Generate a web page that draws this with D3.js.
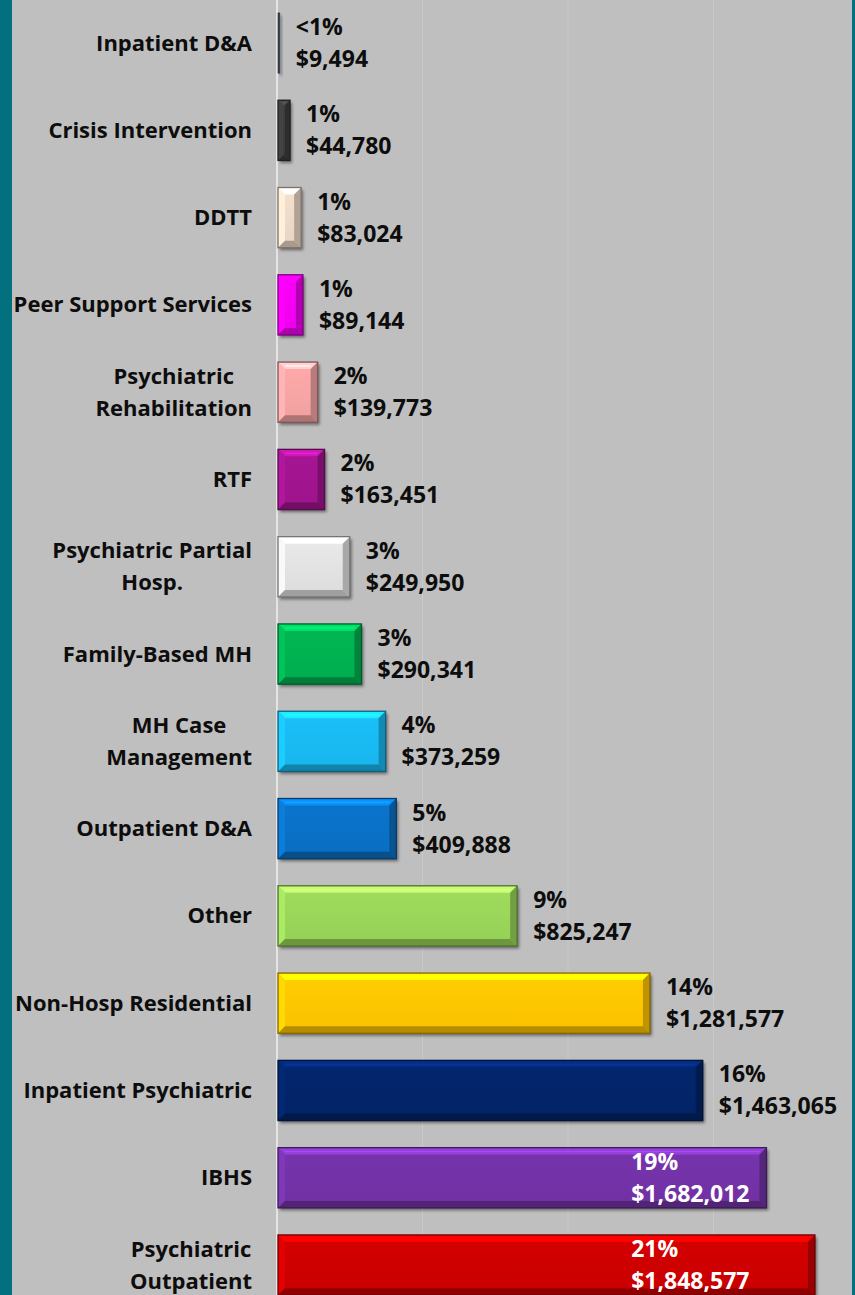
<!DOCTYPE html>
<html>
<head>
<meta charset="utf-8">
<script src="https://cdn.jsdelivr.net/npm/d3@7"></script>
<style>
  html, body { margin: 0; padding: 0; background: #bfbfbf; }
  svg { display: block; }
  text { font-family: "Open Sans", Lato, sans-serif; font-weight: 700; }
</style>
</head>
<body>
<svg id="chart" width="855" height="1295"></svg>
<script>
// Spending by service type (top to bottom)
const categories = [
  "Inpatient D&A",
  "Crisis Intervention",
  "DDTT",
  "Peer Support Services",
  "Psychiatric Rehabilitation",
  "RTF",
  "Psychiatric Partial Hosp.",
  "Family-Based MH",
  "MH Case Management",
  "Outpatient D&A",
  "Other",
  "Non-Hosp Residential",
  "Inpatient Psychiatric",
  "IBHS",
  "Psychiatric Outpatient"
];
// Wrapped lines for the category axis labels
const categoryLines = [
  ["Inpatient D&A"],
  ["Crisis Intervention"],
  ["DDTT"],
  ["Peer Support Services"],
  ["Psychiatric", "Rehabilitation"],
  ["RTF"],
  ["Psychiatric Partial", "Hosp."],
  ["Family-Based MH"],
  ["MH Case", "Management"],
  ["Outpatient D&A"],
  ["Other"],
  ["Non-Hosp Residential"],
  ["Inpatient Psychiatric"],
  ["IBHS"],
  ["Psychiatric", "Outpatient"]
];
const amounts = [9494, 44780, 83024, 89144, 139773, 163451, 249950, 290341,
                 373259, 409888, 825247, 1281577, 1463065, 1682012, 1848577];
const shares = ["<1%", "1%", "1%", "1%", "2%", "2%", "3%", "3%",
                "4%", "5%", "9%", "14%", "16%", "19%", "21%"];
const barColors = ["#3b4150", "#3c3c3c", "#ecd8c6", "#f000f0", "#f4a3a3", "#a0148e",
                   "#e0e0e0", "#00b050", "#19b8f0", "#0a70c4", "#98d459", "#ffc400",
                   "#032468", "#7232a6", "#cc0000"];
const xMax = 2000000;
const xTickStep = 500000;

const svg = d3.select("#chart");
const W = 855, H = 1295;

// grey chart area
svg.append("rect").attr("width", W).attr("height", H).attr("fill", "#bfbfbf");

const x = d3.scaleLinear().domain([0, xMax]).range([277, 859]);
const y = d3.scaleBand().domain(categories).range([-0.6, 1308.7])
  .paddingInner(0.31).paddingOuter(0.155);

// gridlines
const ticks = d3.range(xTickStep, xMax, xTickStep);
svg.append("g").selectAll("line").data(ticks).join("line")
  .attr("x1", d => x(d)).attr("x2", d => x(d))
  .attr("y1", 0).attr("y2", H)
  .attr("stroke", "#c9c9c9").attr("stroke-width", 1);

// category axis line
svg.append("line").attr("x1", x(0)).attr("x2", x(0)).attr("y1", 0).attr("y2", H)
  .attr("stroke", "#e4e4e4").attr("stroke-width", 2);

const defs = svg.append("defs");
defs.append("filter").attr("id", "shadow").attr("x", "-20%").attr("y", "-20%")
  .attr("width", "140%").attr("height", "140%")
  .append("feGaussianBlur").attr("stdDeviation", 1.6);

const bars = svg.append("g");
categories.forEach((cat, i) => {
  const c = d3.color(barColors[i]);
  const x0 = x(0) + 1, x1 = x(amounts[i]);
  const y0 = y(cat), y1 = y0 + y.bandwidth();
  const w = x1 - x0, h = y1 - y0;
  const g = bars.append("g");
  // drop shadow
  g.append("rect").attr("x", x0 + 2).attr("y", y0 + 2.5)
    .attr("width", Math.max(w, 1.5)).attr("height", h)
    .attr("fill", "rgba(0,0,0,0.45)").attr("filter", "url(#shadow)");
  if (w < 6) {
    g.append("rect").attr("x", x0).attr("y", y0).attr("width", Math.max(w, 1.8)).attr("height", h)
      .attr("fill", c.formatHex()).attr("stroke", c.darker(1).formatHex()).attr("stroke-width", 0.6);
    return;
  }
  const b = Math.min(7, w / 2 - 1, h / 2 - 1);
  const poly = pts => pts.map(p => p.join(",")).join(" ");
  // face
  const gid = "face" + i;
  const grad = defs.append("linearGradient").attr("id", gid)
    .attr("x1", 0).attr("y1", 0).attr("x2", 0).attr("y2", 1);
  grad.append("stop").attr("offset", "0%").attr("stop-color", c.brighter(0.12).formatHex());
  grad.append("stop").attr("offset", "100%").attr("stop-color", c.darker(0.05).formatHex());
  g.append("rect").attr("x", x0).attr("y", y0).attr("width", w).attr("height", h)
    .attr("fill", `url(#${gid})`);
  // bevel facets
  g.append("polygon").attr("points", poly([[x0, y0], [x1, y0], [x1 - b, y0 + b], [x0 + b, y0 + b]]))
    .attr("fill", c.brighter(0.7).formatHex());
  g.append("polygon").attr("points", poly([[x0, y0], [x0 + b, y0 + b], [x0 + b, y1 - b], [x0, y1]]))
    .attr("fill", c.brighter(0.3).formatHex());
  g.append("polygon").attr("points", poly([[x1, y0], [x1 - b, y0 + b], [x1 - b, y1 - b], [x1, y1]]))
    .attr("fill", c.darker(0.8).formatHex());
  g.append("polygon").attr("points", poly([[x0, y1], [x1, y1], [x1 - b, y1 - b], [x0 + b, y1 - b]]))
    .attr("fill", c.darker(0.95).formatHex());
  // highlight line along top bevel
  g.append("line").attr("x1", x0 + b).attr("x2", x1 - b).attr("y1", y0 + b * 0.55).attr("y2", y0 + b * 0.55)
    .attr("stroke", c.brighter(1.3).formatHex()).attr("stroke-opacity", 0.7).attr("stroke-width", 1.5);
  // outline
  g.append("rect").attr("x", x0).attr("y", y0).attr("width", w).attr("height", h)
    .attr("fill", "none").attr("stroke", c.darker(1.8).formatHex()).attr("stroke-width", 1.3);
});

// category labels (wrapped lines centred, block right-aligned)
const lineGap = 32;
const labelRight = 252;
const catG = svg.append("g");
categories.forEach((cat, i) => {
  const lines = categoryLines[i];
  const cy = y(cat) + y.bandwidth() / 2;
  const t = catG.append("text").attr("font-size", 22).attr("fill", "#0d0d0d")
    .attr("text-anchor", "middle");
  const firstBase = cy + 7.5 - (lines.length - 1) * lineGap / 2;
  lines.forEach((ln, k) => {
    t.append("tspan").attr("x", 0).attr("y", firstBase + k * lineGap).text(ln);
  });
  const widths = [];
  t.selectAll("tspan").each(function () { widths.push(this.getComputedTextLength()); });
  const maxW = d3.max(widths);
  t.selectAll("tspan").attr("x", labelRight - maxW / 2);
});

// value labels: share and amount
const fmt = d3.format(",");
const labelCap = x(1200000) + 5;
const valG = svg.append("g");
categories.forEach((cat, i) => {
  const cy = y(cat) + y.bandwidth() / 2;
  const end = x(amounts[i]);
  const t = valG.append("text").attr("font-size", 23);
  t.append("tspan").attr("y", cy - 8).text(shares[i]);
  t.append("tspan").attr("y", cy + 24).text("$" + fmt(amounts[i]));
  const w = d3.max(t.selectAll("tspan").nodes(), n => n.getComputedTextLength());
  let lx = end + 16;
  let fill = "#0d0d0d";
  if (lx + w > x(xMax)) { lx = Math.min(lx, labelCap); fill = "#ffffff"; }
  t.attr("fill", fill);
  t.selectAll("tspan").attr("x", lx);
});

// teal side borders
svg.append("rect").attr("x", 0).attr("y", 0).attr("width", 12).attr("height", H).attr("fill", "#02707f");
svg.append("rect").attr("x", 852).attr("y", 0).attr("width", 3).attr("height", H).attr("fill", "#02707f");
</script>
</body>
</html>
